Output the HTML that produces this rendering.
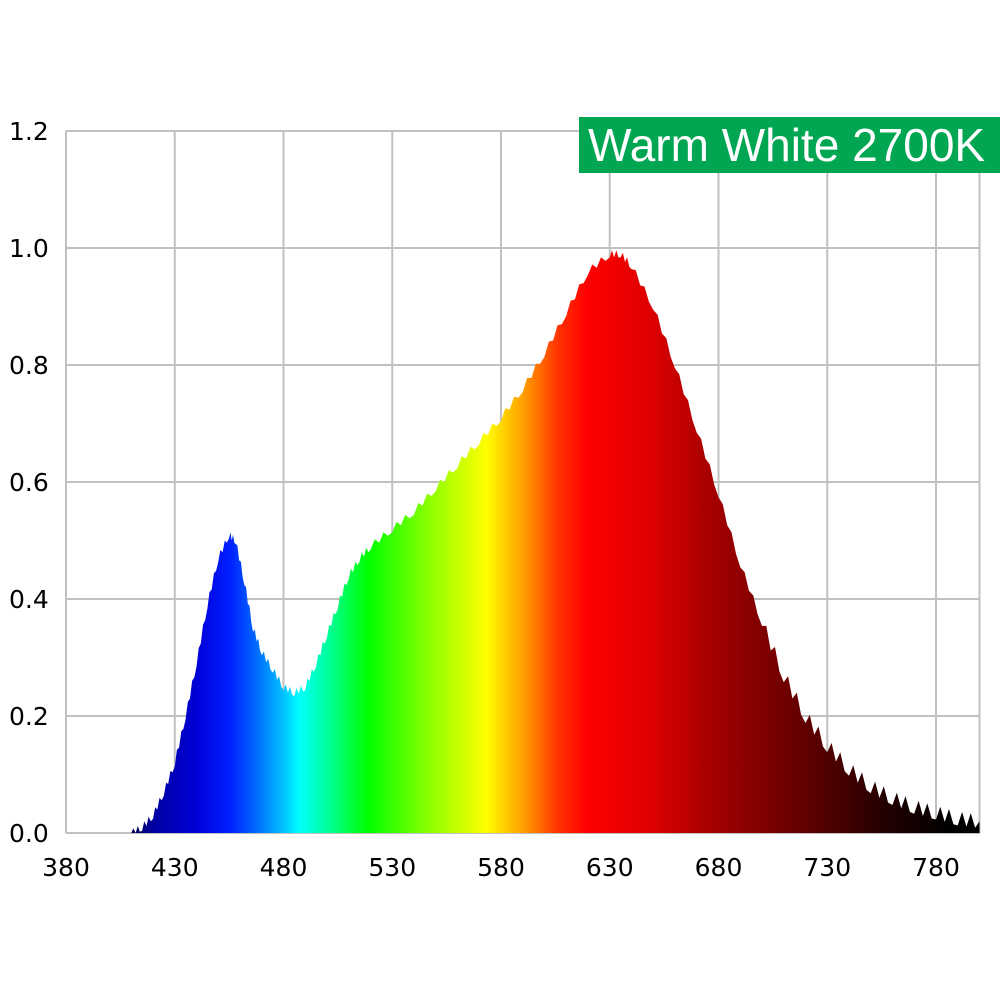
<!DOCTYPE html>
<html><head><meta charset="utf-8"><style>
html,body{margin:0;padding:0;background:#fff;width:1000px;height:1000px;overflow:hidden}
svg text{font-family:"DejaVu Sans","Liberation Sans",sans-serif}
</style></head><body>
<svg id="s" width="1000" height="1000" xmlns="http://www.w3.org/2000/svg">
<defs>
<linearGradient id="g" gradientUnits="userSpaceOnUse" x1="66" y1="0" x2="979.5" y2="0">
<stop offset="0.071" stop-color="#000050"/>
<stop offset="0.095" stop-color="#0000a0"/>
<stop offset="0.143" stop-color="#0000d8"/>
<stop offset="0.18" stop-color="#0020ff"/>
<stop offset="0.21" stop-color="#0070ff"/>
<stop offset="0.24" stop-color="#00c8ff"/>
<stop offset="0.255" stop-color="#00ffff"/>
<stop offset="0.29" stop-color="#00ff90"/>
<stop offset="0.33" stop-color="#00ff00"/>
<stop offset="0.40" stop-color="#90ff00"/>
<stop offset="0.46" stop-color="#ffff00"/>
<stop offset="0.50" stop-color="#ffa000"/>
<stop offset="0.54" stop-color="#ff3000"/>
<stop offset="0.57" stop-color="#ff0000"/>
<stop offset="0.64" stop-color="#dd0000"/>
<stop offset="0.714" stop-color="#a00000"/>
<stop offset="0.81" stop-color="#600000"/>
<stop offset="0.90" stop-color="#200000"/>
<stop offset="0.97" stop-color="#000000"/>
</linearGradient>
</defs>
<g id="grid" stroke="#c0c0c0" stroke-width="2" fill="none"></g>
<path id="spec" fill="url(#g)" stroke="none"/>
<g id="labels" font-size="25" fill="#000"></g>
<rect x="579" y="117" width="421" height="56" fill="#00a651"/>
<text x="588" y="161" font-size="46" fill="#fff" style="font-family:'Liberation Sans',sans-serif">Warm White 2700K</text>
</svg>
<script>
var X=function(n){return 66+(n-380)*2.175},Y=function(v){return 833-v*585};
var g=document.getElementById('grid'),L=document.getElementById('labels'),ns='http://www.w3.org/2000/svg';
function el(p,t,a){var e=document.createElementNS(ns,t);for(var k in a)e.setAttribute(k,a[k]);p.appendChild(e);return e}
for(var i=0;i<=6;i++){var y=Y(i*0.2);el(g,'line',{x1:66,x2:980,y1:y,y2:y});var t=el(L,'text',{x:9,y:y+9});t.textContent=(i*0.2).toFixed(1);}
for(var n=380;n<=800;n+=50){var x=X(n);el(g,'line',{x1:x,x2:x,y1:131,y2:833});if(n<800){var t=el(L,'text',{x:x,y:876,'text-anchor':'middle'});t.textContent=n;}}
el(g,'line',{x1:979.5,x2:979.5,y1:131,y2:833});
var p=[[410,0],[415,.01],[420,.03],[425,.07],[430,.12],[435,.2],[440,.29],[445,.39],[450,.47],[455,.51],[458,.5],[462,.43],[466,.35],[470,.31],[475,.28],[480,.25],[485,.24],[490,.25],[495,.29],[500,.34],[505,.39],[510,.44],[515,.47],[520,.49],[530,.52],[540,.55],[550,.59],[560,.63],[570,.67],[580,.71],[590,.76],[600,.82],[610,.89],[620,.96],[630,.99],[635,.99],[640,.97],[650,.9],[660,.8],[670,.69],[680,.58],[690,.46],[700,.36],[710,.27],[720,.2],[730,.15],[740,.11],[750,.08],[760,.06],[770,.045],[780,.035],[790,.025],[800,.02]];
var d='M'+X(410)+','+Y(0);
for(var k=0;k<p.length-1;k++){for(var s=0;s<5;s++){var n=p[k][0]+(p[k+1][0]-p[k][0])*s/5,v=p[k][1]+(p[k+1][1]-p[k][1])*s/5;v+= (s%2?0.006:-0.006)*(n>700?2:1);if(v<0)v=0;d+=' L'+X(n).toFixed(1)+','+Y(v).toFixed(1);}}
d+=' L'+X(800)+','+Y(.02)+' L'+X(800)+','+Y(0)+' Z';
document.getElementById('spec').setAttribute('d',d);
</script>
</body></html>
